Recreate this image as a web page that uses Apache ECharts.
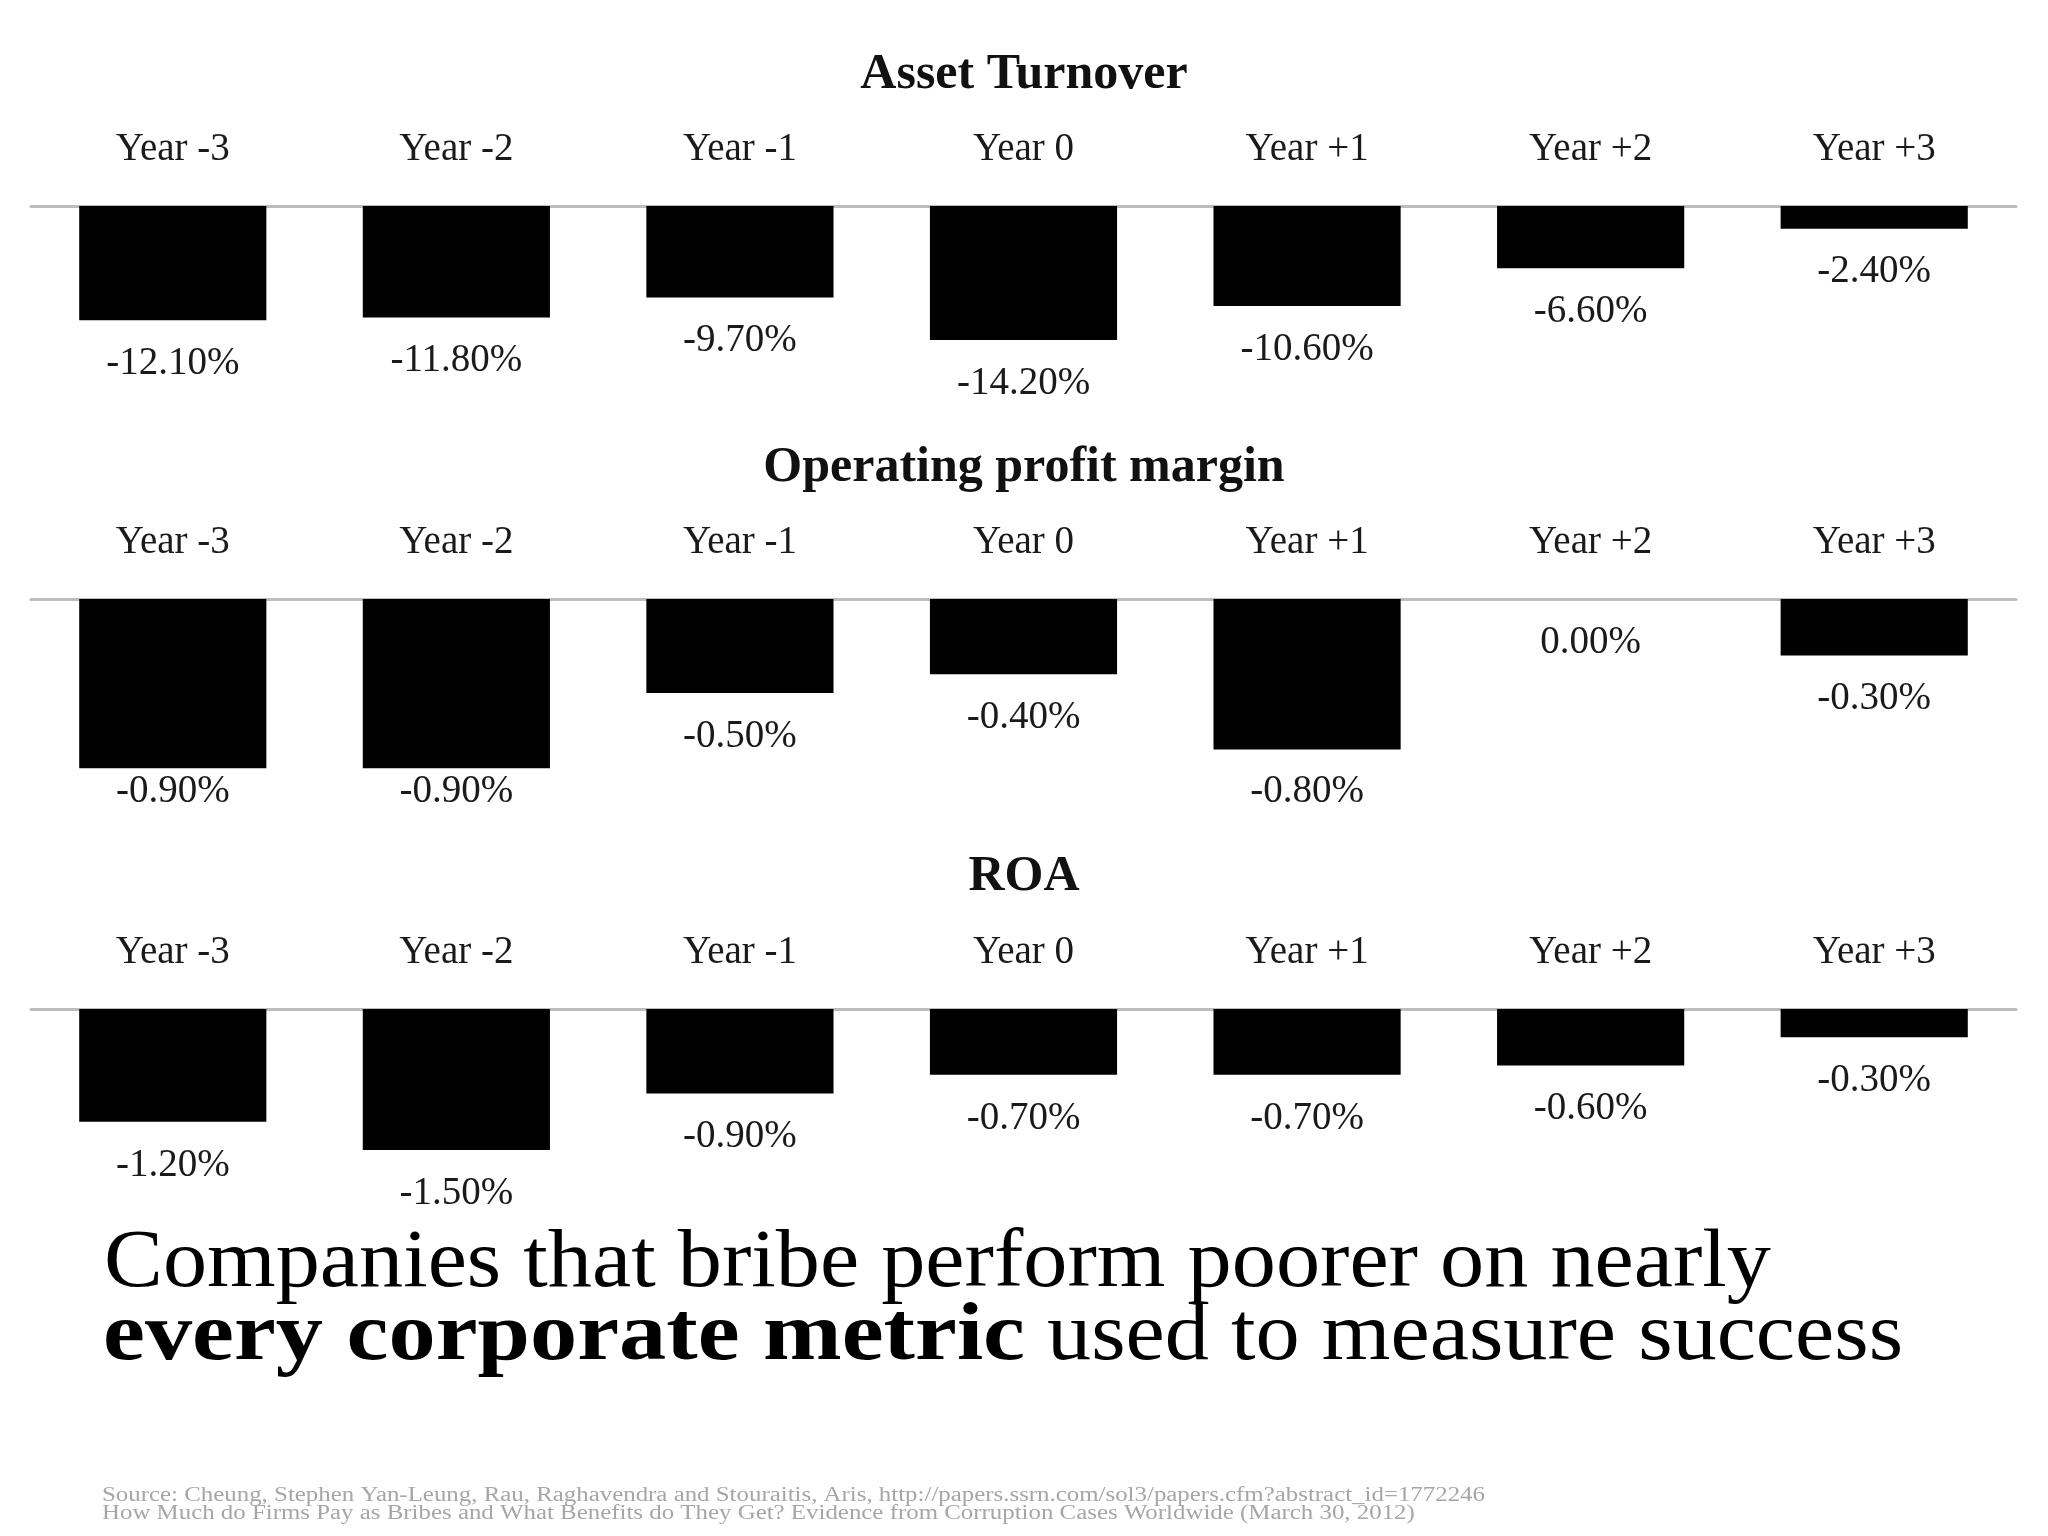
<!DOCTYPE html>
<html>
<head>
<meta charset="utf-8">
<script src="https://cdn.jsdelivr.net/npm/echarts@6/dist/echarts.min.js"></script>
<style>
html,body{margin:0;padding:0;background:#fff;}
#chart{width:2048px;height:1536px;}
</style>
</head>
<body>
<div id="chart"></div>
<script>
// ---- data ----
const categories = ['Year -3', 'Year -2', 'Year -1', 'Year 0', 'Year +1', 'Year +2', 'Year +3'];
const panelTitles = ['Asset Turnover', 'Operating profit margin', 'ROA'];
const assetTurnover = [-12.1, -11.8, -9.7, -14.2, -10.6, -6.6, -2.4];
const operatingMargin = [-0.9, -0.9, -0.5, -0.4, -0.8, 0.0, -0.3];
const roa = [-1.2, -1.5, -0.9, -0.7, -0.7, -0.6, -0.3];
const headlineLine1 = 'Companies that bribe perform poorer on nearly';
const headlineBold = 'every corporate metric';
const headlineRest = ' used to measure success';
const sourceLine1 = 'Source: Cheung, Stephen Yan-Leung, Rau, Raghavendra and Stouraitis, Aris, http://papers.ssrn.com/sol3/papers.cfm?abstract_id=1772246';
const sourceLine2 = 'How Much do Firms Pay as Bribes and What Benefits do They Get? Evidence from Corruption Cases Worldwide (March 30, 2012)';

// ---- layout / style ----
const FONT = '"Liberation Serif", "Times New Roman", serif';
const LABEL_SIZE = 39;
const panels = [
  { values: assetTurnover, axisY: 206, min: -16, pxPerUnit: 9.44, titleY: 70, labelFloor: null },
  { values: operatingMargin, axisY: 599, min: -1, pxPerUnit: 188, titleY: 463, labelFloor: 193 },
  { values: roa, axisY: 1009, min: -1.6, pxPerUnit: 94, titleY: 872, labelFloor: null }
];
const GRID_LEFT = 31, GRID_RIGHT = 32;
const LABEL_DIST = 24;

const chart = echarts.init(document.getElementById('chart'), null, { renderer: 'canvas' });

const grids = [], xAxes = [], yAxes = [], series = [], titles = [];
panels.forEach((p, i) => {
  const h = -p.min * p.pxPerUnit;
  grids.push({ left: GRID_LEFT, right: GRID_RIGHT, top: p.axisY, height: h, containLabel: false });
  xAxes.push({
    type: 'category', gridIndex: i, data: categories, position: 'top',
    axisLine: { show: true, lineStyle: { color: '#bdbdbd', width: 3 } },
    axisTick: { show: false },
    axisLabel: { margin: 37, fontFamily: FONT, fontSize: LABEL_SIZE, lineHeight: LABEL_SIZE, color: '#1a1a1a' }
  });
  yAxes.push({ type: 'value', gridIndex: i, min: p.min, max: 0, show: false, splitLine: { show: false } });
  const data = p.values.map(v => {
    const item = { value: v };
    if (p.labelFloor !== null) {
      const natural = -v * p.pxPerUnit + LABEL_DIST + LABEL_SIZE / 2;
      if (natural > p.labelFloor) item.label = { offset: [0, p.labelFloor - natural] };
    }
    return item;
  });
  series.push({
    type: 'bar', xAxisIndex: i, yAxisIndex: i, data: data,
    barCategoryGap: '34%',
    itemStyle: { color: '#000' },
    label: {
      show: true, position: 'bottom', distance: LABEL_DIST,
      fontFamily: FONT, fontSize: LABEL_SIZE, lineHeight: LABEL_SIZE, color: '#1a1a1a',
      formatter: prm => prm.value.toFixed(2) + '%'
    },
    silent: true, animation: false
  });
  titles.push({
    text: panelTitles[i], left: 'center', top: p.titleY - 25,
    textStyle: { fontFamily: FONT, fontWeight: 'bold', fontSize: 50, lineHeight: 50, color: '#111' }
  });
});

// measure to fit widths of headline/source lines (layout only)
const ctx = document.createElement('canvas').getContext('2d');
function w(text, size, weight) { ctx.font = (weight || 'normal') + ' ' + size + 'px ' + FONT; return ctx.measureText(text).width; }
const HEAD = 82;
const s1 = 1667 / w(headlineLine1, HEAD);
const sB = 922 / w(headlineBold, HEAD, 'bold');
const sR = 878 / w(headlineRest, HEAD);
const SRC = 20;
const s3 = 1383 / w(sourceLine1, SRC);
const mid = 0.25;

function txt(x, baseline, text, size, scale, weight, fill) {
  return { type: 'text', x: x, y: baseline - mid * size, scaleX: scale,
    style: { text: text, fontFamily: FONT, fontSize: size, fontWeight: weight || 'normal', fill: fill, align: 'left', verticalAlign: 'middle' } };
}

const graphic = [
  txt(104, 1285, headlineLine1, HEAD, s1, 'normal', '#000'),
  txt(103, 1358, headlineBold, HEAD, sB, 'bold', '#000'),
  txt(1025, 1358, headlineRest, HEAD, sR, 'normal', '#000'),
  txt(102, 1501, sourceLine1, SRC, s3, 'normal', '#a6a6a6'),
  txt(102, 1519, sourceLine2, SRC, s3, 'normal', '#a6a6a6')
];

chart.setOption({
  backgroundColor: '#fff',
  animation: false,
  title: titles,
  grid: grids,
  xAxis: xAxes,
  yAxis: yAxes,
  series: series,
  graphic: graphic
});
</script>
</body>
</html>
